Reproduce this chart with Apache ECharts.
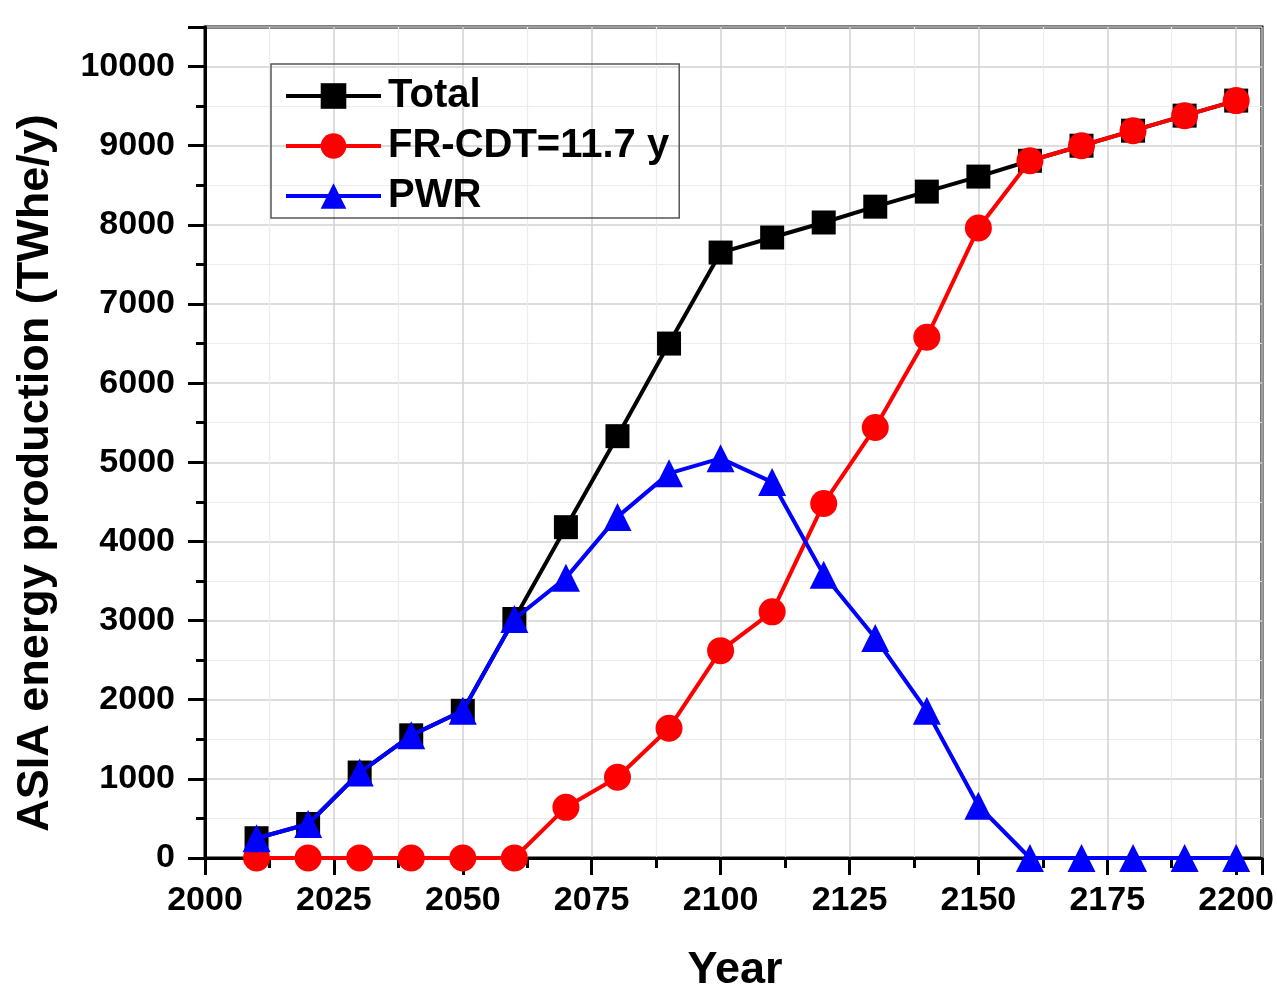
<!DOCTYPE html>
<html>
<head>
<meta charset="utf-8">
<script src="https://cdn.jsdelivr.net/npm/echarts@6/dist/echarts.min.js"></script>
<style>html,body{margin:0;padding:0;background:#fff;}#c{width:1277px;height:1000px;}</style>
</head>
<body>
<div id="c"></div>
<script>
const years = [2010,2020,2030,2040,2050,2060,2070,2080,2090,2100,2110,2120,2130,2140,2150,2160,2170,2180,2190,2200];
const totalValues = [250,430,1080,1550,1860,3020,4180,5330,6500,7650,7840,8030,8230,8420,8610,8810,9000,9190,9380,9570];
const frValues = [0,0,0,0,0,0,640,1020,1640,2620,3110,4480,5440,6580,7960,8810,9000,9190,9380,9570];
const pwrValues = [250,430,1080,1550,1860,3020,3540,4310,4860,5050,4750,3580,2780,1860,660,0,0,0,0,0];
const seriesNames = ['Total','FR-CDT=11.7 y','PWR'];
const xTitle = 'Year';
const yTitle = 'ASIA energy production (TWhe/y)';

const FONT = '"Liberation Sans", Arial, sans-serif';
const pair = (xs, ys) => xs.map((x, i) => [x, ys[i]]);
const plain = v => String(v);

const chart = echarts.init(document.getElementById('c'));
chart.setOption({
  animation: false,
  backgroundColor: '#fff',
  grid: { left: 205, right: 15, top: 27, bottom: 142, show: true, borderColor: '#000', borderWidth: 3, containLabel: false },
  legend: {
    orient: 'vertical', left: 271, top: 64,
    itemWidth: 95, itemHeight: 32, itemGap: 10,
    padding: [12, 10, 2, 13],
    borderColor: '#555', borderWidth: 1.5,
    lineStyle: { width: 4 },
    textStyle: { fontFamily: FONT, fontWeight: 'bold', fontSize: 40, color: '#000', padding: [0,0,0,2] },
    data: seriesNames
  },
  xAxis: {
    type: 'value', min: 2000, max: 2205, interval: 25,
    axisLine: { show: true, lineStyle: { color: '#000', width: 3 } },
    axisTick: { show: true, length: 17, lineStyle: { color: '#000', width: 3 } },
    minorTick: { show: true, splitNumber: 2, length: 10, lineStyle: { color: '#000', width: 3 } },
    splitLine: { show: true, lineStyle: { color: '#d2d2d2', width: 1.5 } },
    minorSplitLine: { show: true, lineStyle: { color: '#ececec', width: 1.2 } },
    axisLabel: { showMaxLabel: false, formatter: plain, fontFamily: FONT, fontWeight: 'bold', fontSize: 34, color: '#000', margin: 26 },
  },
  yAxis: {
    type: 'value', min: 0, max: 10500, interval: 1000,
    axisLine: { show: true, lineStyle: { color: '#000', width: 3 } },
    axisTick: { show: true, length: 17, lineStyle: { color: '#000', width: 3 } },
    minorTick: { show: true, splitNumber: 2, length: 9, lineStyle: { color: '#000', width: 3 } },
    splitLine: { show: true, lineStyle: { color: '#d2d2d2', width: 1.5 } },
    minorSplitLine: { show: true, lineStyle: { color: '#ececec', width: 1.2 } },
    axisLabel: { showMaxLabel: false, formatter: plain, fontFamily: FONT, fontWeight: 'bold', fontSize: 34, color: '#000', margin: 30 },
  },
  graphic: [
    { type: 'text', x: 36, y: 473, rotation: Math.PI / 2,
      style: { text: yTitle, font: 'bold 45px ' + FONT, fill: '#000', align: 'center', verticalAlign: 'middle' } },
    { type: 'text', x: 735, y: 971,
      style: { text: xTitle, font: 'bold 45px ' + FONT, fill: '#000', align: 'center', verticalAlign: 'middle' } }
  ],
  series: [
    { name: seriesNames[0], type: 'line', data: pair(years, totalValues), symbol: 'rect', symbolSize: 24,
      lineStyle: { color: '#000', width: 4 }, itemStyle: { color: '#000' }, z: 2 },
    { name: seriesNames[1], type: 'line', data: pair(years, frValues), symbol: 'circle', symbolSize: 27,
      lineStyle: { color: '#ff0000', width: 4 }, itemStyle: { color: '#ff0000' }, z: 3 },
    { name: seriesNames[2], type: 'line', data: pair(years, pwrValues), symbol: 'triangle', symbolSize: 28,
      lineStyle: { color: '#0000ff', width: 4 }, itemStyle: { color: '#0000ff' }, z: 4 }
  ]
});
</script>
</body>
</html>
